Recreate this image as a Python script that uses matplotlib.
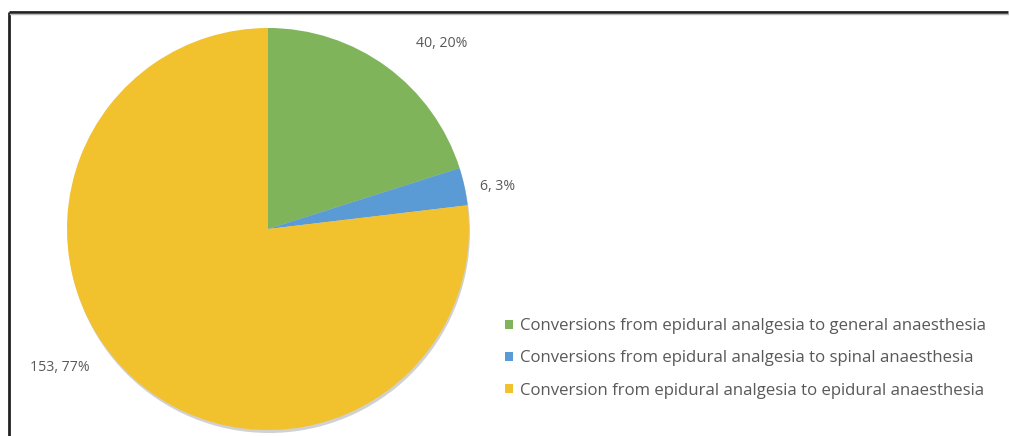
import matplotlib.pyplot as plt
import numpy as np

plt.rcParams['font.family'] = ['Open Sans', 'DejaVu Sans']

categories = ["Conversions from epidural analgesia to general anaesthesia",
              "Conversions from epidural analgesia to spinal anaesthesia",
              "Conversion from epidural analgesia to epidural anaesthesia"]
counts = [40, 6, 153]
colors = ["#7fb45a", "#5b9bd5", "#f2c12e"]

W, H = 1009, 436
fig = plt.figure(figsize=(W / 100, H / 100), dpi=100)
ax = fig.add_axes([0, 0, 1, 1])

cx, cy, r = 268, H - 229, 201
# faint shadow under the pie
shadow = plt.Circle((cx + 1, cy - 3), r, color="#000000", alpha=0.18, lw=0)
ax.add_patch(shadow)
wedges, _ = ax.pie(counts, colors=colors, startangle=90, counterclock=False,
                   center=(cx, cy), radius=r, frame=True,
                   wedgeprops=dict(linewidth=0))

total = sum(counts)
label_pos = [(442, 44), (498, 186), (60, 367)]
for n, (px, py) in zip(counts, label_pos):
    ax.text(px, H - py, f"{n}, {round(100 * n / total)}%", ha="center",
            va="center", fontsize=10.2, color="#595959")

leg = ax.legend(wedges, categories, loc="upper left",
                bbox_to_anchor=(490 / W, 1 - 303 / H), frameon=False,
                fontsize=12.1, handlelength=0.45, handleheight=0.45,
                handletextpad=0.45, labelspacing=0.97, labelcolor="#595959")

# frame (left and top edges)
ax.plot([9, 9], [0, H - 12], color="#222222", lw=2, solid_capstyle="butt")
ax.plot([9, 1008], [H - 12, H - 12], color="#222222", lw=2,
        solid_capstyle="butt")
ax.plot([10, 1008], [H - 14, H - 14], color="#bbbbbb", lw=1)

ax.set_xlim(0, W)
ax.set_ylim(0, H)
ax.set_aspect("auto")
ax.axis("off")

fig.savefig("out.png", dpi=100)
